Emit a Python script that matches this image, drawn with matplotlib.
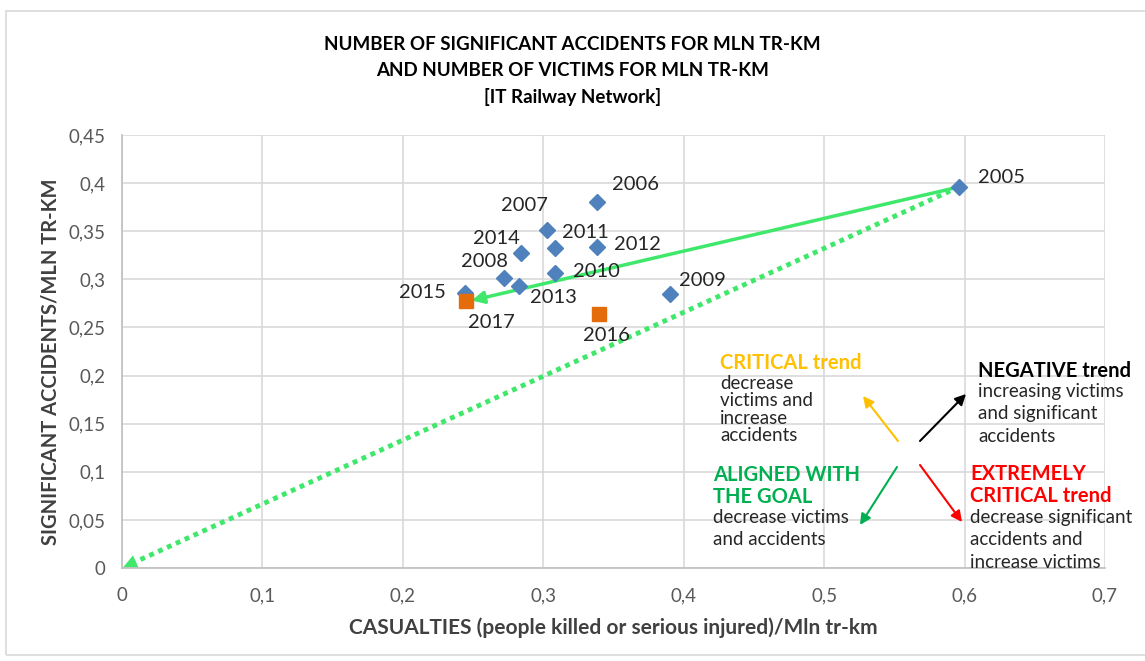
import matplotlib
matplotlib.use('Agg')

import numpy as np
import matplotlib.pyplot as plt
from matplotlib.patches import Rectangle
from matplotlib.ticker import FuncFormatter, MultipleLocator

plt.rcParams['font.family'] = ['Lato', 'DejaVu Sans']

# data
years = ['2005', '2006', '2007', '2008', '2009', '2010', '2011',
         '2012', '2013', '2014', '2015']
casualties = [0.596, 0.338, 0.303, 0.272, 0.390, 0.308, 0.308,
              0.338, 0.283, 0.284, 0.244]
accidents = [0.396, 0.380, 0.351, 0.301, 0.285, 0.307, 0.333,
             0.334, 0.293, 0.327, 0.286]

recent_years = ['2016', '2017']
recent_casualties = [0.340, 0.245]
recent_accidents = [0.264, 0.278]

# label offsets in pixels (dx, dy, ha)
label_pos = {
    '2005': (19, 9, 'left'), '2006': (15, 18, 'left'), '2007': (0, 25, 'right'),
    '2008': (4, 17, 'right'), '2009': (9, 13, 'left'), '2010': (18, 1, 'left'),
    '2011': (7, 15, 'left'), '2012': (17, 2, 'left'), '2013': (11, -11, 'left'),
    '2014': (-1, 15, 'right'), '2015': (-19, 0, 'right'),
    '2016': (-16, -22, 'left'), '2017': (2, -22, 'left'),
}

W, H = 1145, 661
fig = plt.figure(figsize=(W / 100, H / 100), dpi=100)


def px(x, y):
    # screen pixel (top-left origin) -> figure fraction
    return x / W, 1 - y / H


fig.patches.append(Rectangle(px(6, 655), (W - 4) / W, 644 / H, transform=fig.transFigure,
                             fill=False, edgecolor='#D9D9D9', lw=1.2))

ax = fig.add_axes([122 / W, 1 - 568 / H, 983 / W, 433 / H])
ax.set_xlim(0, 0.7)
ax.set_ylim(0, 0.45)
ax.xaxis.set_major_locator(MultipleLocator(0.1))
ax.yaxis.set_major_locator(MultipleLocator(0.05))
fmt = FuncFormatter(lambda v, p: ('%g' % round(v, 3)).replace('.', ','))
ax.xaxis.set_major_formatter(fmt)
ax.yaxis.set_major_formatter(fmt)
ax.grid(True, color='#D9D9D9', lw=1.2)
ax.set_axisbelow(True)
for s in ['top', 'right']:
    ax.spines[s].set_visible(False)
for s in ['left', 'bottom']:
    ax.spines[s].set_color('#BFBFBF')
    ax.spines[s].set_linewidth(1.2)
ax.tick_params(length=0, labelsize=13.5, colors='#595959')
ax.tick_params(axis='x', pad=14)
ax.tick_params(axis='y', pad=12)

ax.plot(casualties, accidents, 'D', color='#4F81BD', markersize=8.5, zorder=3)
ax.plot(recent_casualties, recent_accidents, 's', color='#E46C0A', markersize=10.5, zorder=3)

for yr, cx, cy in zip(years + recent_years, casualties + recent_casualties,
                      accidents + recent_accidents):
    dx, dy, ha = label_pos[yr]
    ax.annotate(yr, (cx, cy), xytext=(dx * 0.72, dy * 0.72), textcoords='offset points',
                ha=ha, va='center', fontsize=14.5, color='#262626', zorder=4)

green = '#3FE86A'
# trend 2005 -> 2017
ax.annotate('', xy=(recent_casualties[1] + 0.004, recent_accidents[1]),
            xytext=(casualties[0], accidents[0]),
            arrowprops=dict(arrowstyle='-|>', color=green, lw=2.5,
                            mutation_scale=18, shrinkA=0, shrinkB=0), zorder=2)
# 2005 -> origin, dotted
ax.plot([casualties[0], 0.012], [accidents[0], 0.008], color=green, lw=3.5,
        linestyle=(0, (1, 1)), zorder=2)
ax.annotate('', xy=(0.001, 0.001), xytext=(0.02, 0.0133),
            arrowprops=dict(arrowstyle='-|>', color=green, lw=0.1,
                            mutation_scale=24, shrinkA=0, shrinkB=0), zorder=2)

fig.text(*px(613, 628), 'CASUALTIES (people killed or serious injured)/Mln tr-km',
         fontsize=15, fontweight='bold', color='#404040', ha='center', va='center')
fig.text(*px(51, 362), 'SIGNIFICANT ACCIDENTS/MLN TR-KM', fontsize=14.5,
         fontweight='bold', color='#404040', rotation=90, ha='center', va='center')

fig.text(0.5, 1 - 71 / H, 'NUMBER OF SIGNIFICANT ACCIDENTS FOR MLN TR-KM\n'
         'AND NUMBER OF VICTIMS FOR MLN TR-KM\n[IT Railway Network]',
         ha='center', va='center', fontsize=13.5, fontweight='bold', linespacing=1.6)

# trend legend arrows
arrows = [((898, 441), (863, 396), '#FFC000'),
          ((920, 441), (966, 394), 'black'),
          ((897, 467), (860, 525), '#00B050'),
          ((920, 465), (962, 522), '#FF0000')]
for (x0, y0), (x1, y1), c in arrows:
    ax.annotate('', xy=px(x1, y1), xytext=px(x0, y0), xycoords='figure fraction',
                textcoords='figure fraction',
                arrowprops=dict(arrowstyle='-|>', color=c, lw=1.5, mutation_scale=16,
                                shrinkA=0, shrinkB=0))

blocks = [
    (720, 353, 'CRITICAL trend', '#FFC000', 'decrease\nvictims and\nincrease\naccidents', 1.02, 375),
    (978, 361, 'NEGATIVE trend', 'black', 'increasing victims\nand significant\naccidents', 1.38, 383),
    (713, 465, 'ALIGNED WITH\nTHE GOAL', '#00B050', 'decrease victims\nand accidents', 1.38, 509),
    (970, 464, 'EXTREMELY\nCRITICAL trend', '#FF0000',
     'decrease significant\naccidents and\nincrease victims', 1.38, 509),
]
for x, y, head, c, body, ls, yb in blocks:
    fig.text(*px(x, y), head, color=c, fontsize=14.5, fontweight='bold',
             va='top', ha='left', linespacing=1.1)
    fig.text(*px(x, yb), body, color='#262626', fontsize=13.5,
             va='top', ha='left', linespacing=ls)

fig.savefig('out.png', dpi=100)
